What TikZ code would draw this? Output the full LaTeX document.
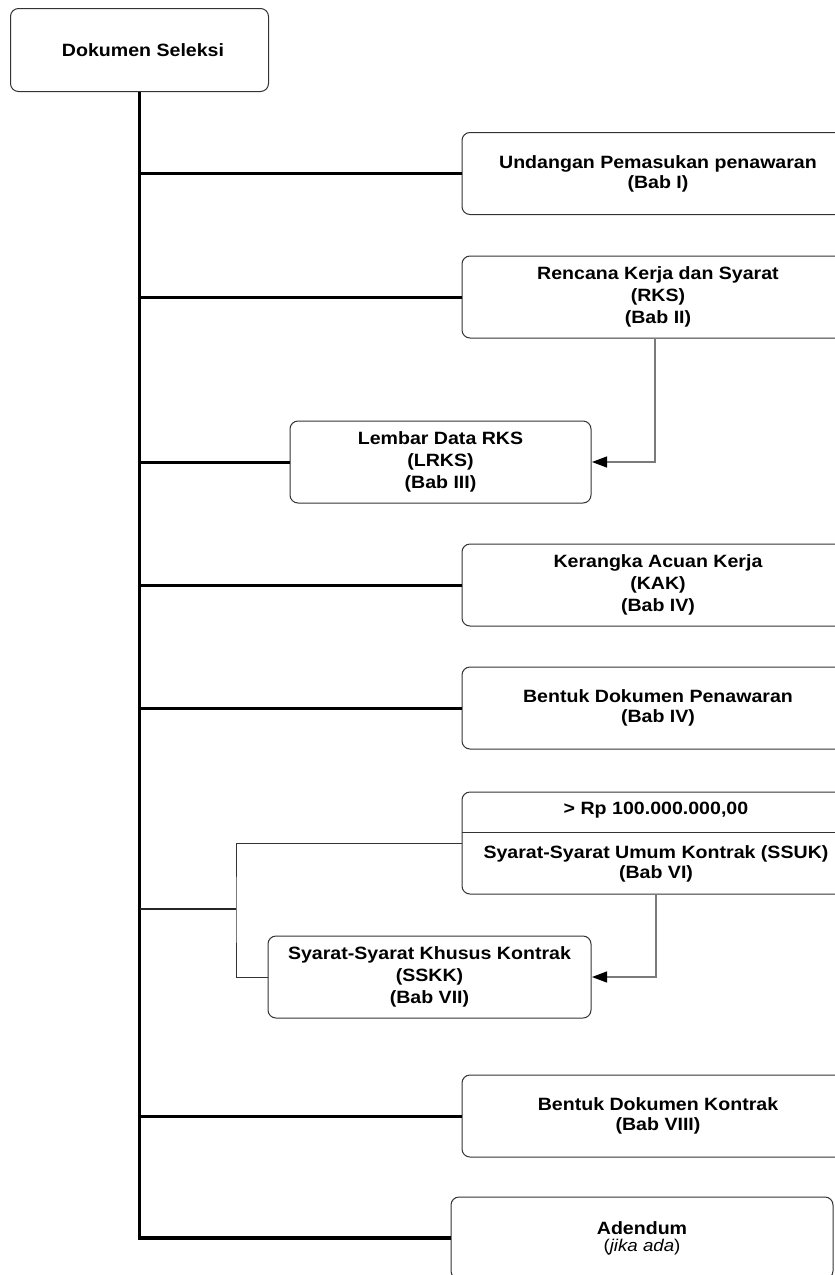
\documentclass[tikz,border=0pt]{standalone}
\usepackage{fontspec}
\setmainfont[FakeStretch=1.1]{Liberation Sans}
\usetikzlibrary{arrows.meta}
\definecolor{boxc}{HTML}{333333}
\definecolor{arrc}{HTML}{7A7A7A}
\newcommand\dtxt{\bfseries\fontsize{17.8}{20}\selectfont}
\newcommand\dtxtc{\bfseries\fontsize{17.8}{22}\selectfont}
\begin{document}
\begin{tikzpicture}[x=1pt,y=-1pt,
  box/.style={draw=boxc, line width=1pt, rounded corners=8pt, fill=white,
    align=center, font=\dtxt, inner sep=0pt, minimum height=82pt},
  rbox/.style={box, minimum width=392pt},
  trunkline/.style={line width=3.2pt, black},
  branch/.style={line width=3pt, black},
  midline/.style={line width=1.6pt, black!85},
  thinline/.style={line width=1pt, boxc},
  arr/.style={line width=1.2pt, arrc, -{Triangle[length=15pt,width=11pt,color=black]}, shorten >=0.5pt},
  lbl/.style={font=\dtxt, align=center, inner sep=0pt}]
\useasboundingbox (0,0) rectangle (835,1275);
\clip (0,0) rectangle (835,1275);
\fill[white] (0,0) rectangle (835,1275);

% nodes
\node[box, minimum width=258pt, minimum height=83pt] (ds) at (139.5,50) {\hspace*{7pt}Dokumen Seleksi};
\node[rbox] (b1) at (658,173.5) {Undangan Pemasukan penawaran\\(Bab I)};
\node[rbox, font=\dtxtc] (b2) at (658,297) {Rencana Kerja dan Syarat\\(RKS)\\(Bab II)};
\node[box, font=\dtxtc, minimum width=301pt] (b3) at (440.5,462) {Lembar Data RKS\\(LRKS)\\(Bab III)};
\node[rbox, font=\dtxtc] (b4) at (658,585) {Kerangka Acuan Kerja\\(KAK)\\(Bab IV)};
\node[rbox] (b5) at (658,708) {Bentuk Dokumen Penawaran\\(Bab IV)};
\node[rbox, minimum height=102pt] (b6) at (658,843) {};
\coordinate (b6div) at (0,832);
\draw[thinline] (b6.west |- b6div) -- (b6.east |- b6div);
\node[lbl] (b6top) at (656,810) {> Rp 100.000.000,00};
\node[lbl] (b6bot) at (656,864) {Syarat-Syarat Umum Kontrak (SSUK)\\(Bab VI)};
\node[box, font=\dtxtc, minimum width=323pt] (b7) at (429.5,977) {Syarat-Syarat Khusus Kontrak\\(SSKK)\\(Bab VII)};
\node[rbox] (b8) at (658,1116) {Bentuk Dokumen Kontrak\\(Bab VIII)};
\node[box, minimum width=382pt] (b9) at (642,1238) {Adendum\\[-3pt]{\mdseries\fontsize{17}{18}\selectfont(\textit{jika ada})}};

% trunk and branches
\draw[trunkline] (ds.south) |- (b9.west);
\draw[branch] (ds.south |- b1.west) -- (b1.west);
\draw[branch] (ds.south |- b2.west) -- (b2.west);
\draw[branch] (ds.south |- b3.west) -- (b3.west);
\draw[branch] (ds.south |- b4.west) -- (b4.west);
\draw[branch] (ds.south |- b5.west) -- (b5.west);
\draw[branch] (ds.south |- b8.west) -- (b8.west);

% group SSUK / SSKK
\coordinate (jx) at (236,909);
\draw[midline] (ds.south |- jx) -- (jx);
\draw[thinline] (b6.west) -| (jx) |- (b7.west);

% arrows
\draw[arr] ([xshift=-3pt]b2.south) |- (b3.east);
\draw[arr] ([xshift=-2pt]b6.south) |- (b7.east);
\end{tikzpicture}
\end{document}
